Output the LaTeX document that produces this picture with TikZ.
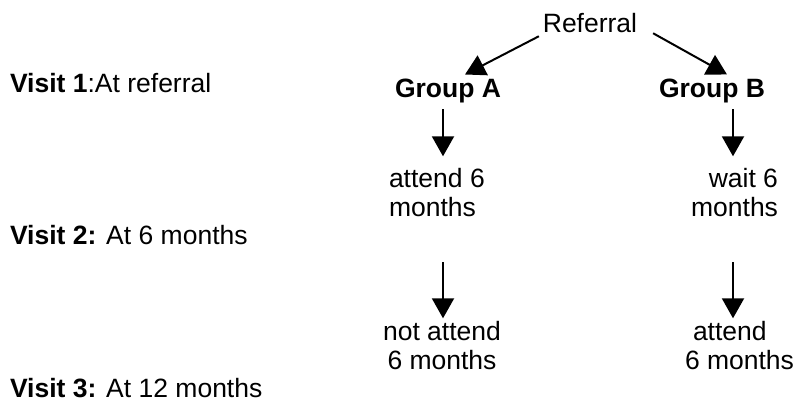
\documentclass[tikz,border=0pt]{standalone}
\usepackage{fontspec}
\setmainfont{Liberation Sans}
\usetikzlibrary{arrows.meta,calc}
\begin{document}
\begin{tikzpicture}[x=1pt,y=-1pt,
  every node/.style={inner sep=0pt,outer sep=0pt,font=\fontsize{26.5}{29.5}\selectfont},
  arr/.style={line width=2pt,-{Triangle[length=20pt,width=22pt]}}]
\path[use as bounding box,fill=white] (0,0) rectangle (796,403);
% left labels
\node[anchor=base west] (v1) at (10,93) {\textbf{Visit 1}:At referral};
\node[anchor=base west] (v2) at (10,245) {\textbf{Visit 2:} At 6 months};
\node[anchor=base west] (v3) at (10,398) {\textbf{Visit 3:} At 12 months};
% tree
\node[anchor=base] (ref) at (590,33) {Referral};
\node[anchor=base] (ga) at (448,98) {\textbf{Group A}};
\node[anchor=base] (gb) at (712,98) {\textbf{Group B}};
\node[anchor=base west,align=left] (a1) at (389,217) {attend 6\\months};
\node[anchor=base east,align=right] (b1) at (778,217) {wait 6\\months};
\node[anchor=base,align=center] (a2) at (442,370) {not attend\\6 months};
\node[anchor=base west,align=left] (b2) at (685,370) {\hspace*{8pt}attend\\6 months};
% connectors
\draw[arr] ($(ref.south west)+(-4,3)$) -- ($(ga.north)+(17,-5)$);
\draw[arr] ($(ref.south east)+(16,0)$) -- ($(gb.north)+(15,-5)$);
\draw[arr] ($(ga.south)+(-5,6)$) -- ($(ga.south |- a1.north)+(-5,-12)$);
\draw[arr] ($(gb.south)+(21,6)$) -- ($(gb.south |- b1.north)+(21,-12)$);
\draw[arr] ($(a1.south -| ga.south)+(-5,45)$) -- ($(ga.south |- a2.north)+(-5,-3)$);
\draw[arr] ($(b1.south -| gb.south)+(21,45)$) -- ($(gb.south |- b2.north)+(21,-3)$);
\end{tikzpicture}
\end{document}
